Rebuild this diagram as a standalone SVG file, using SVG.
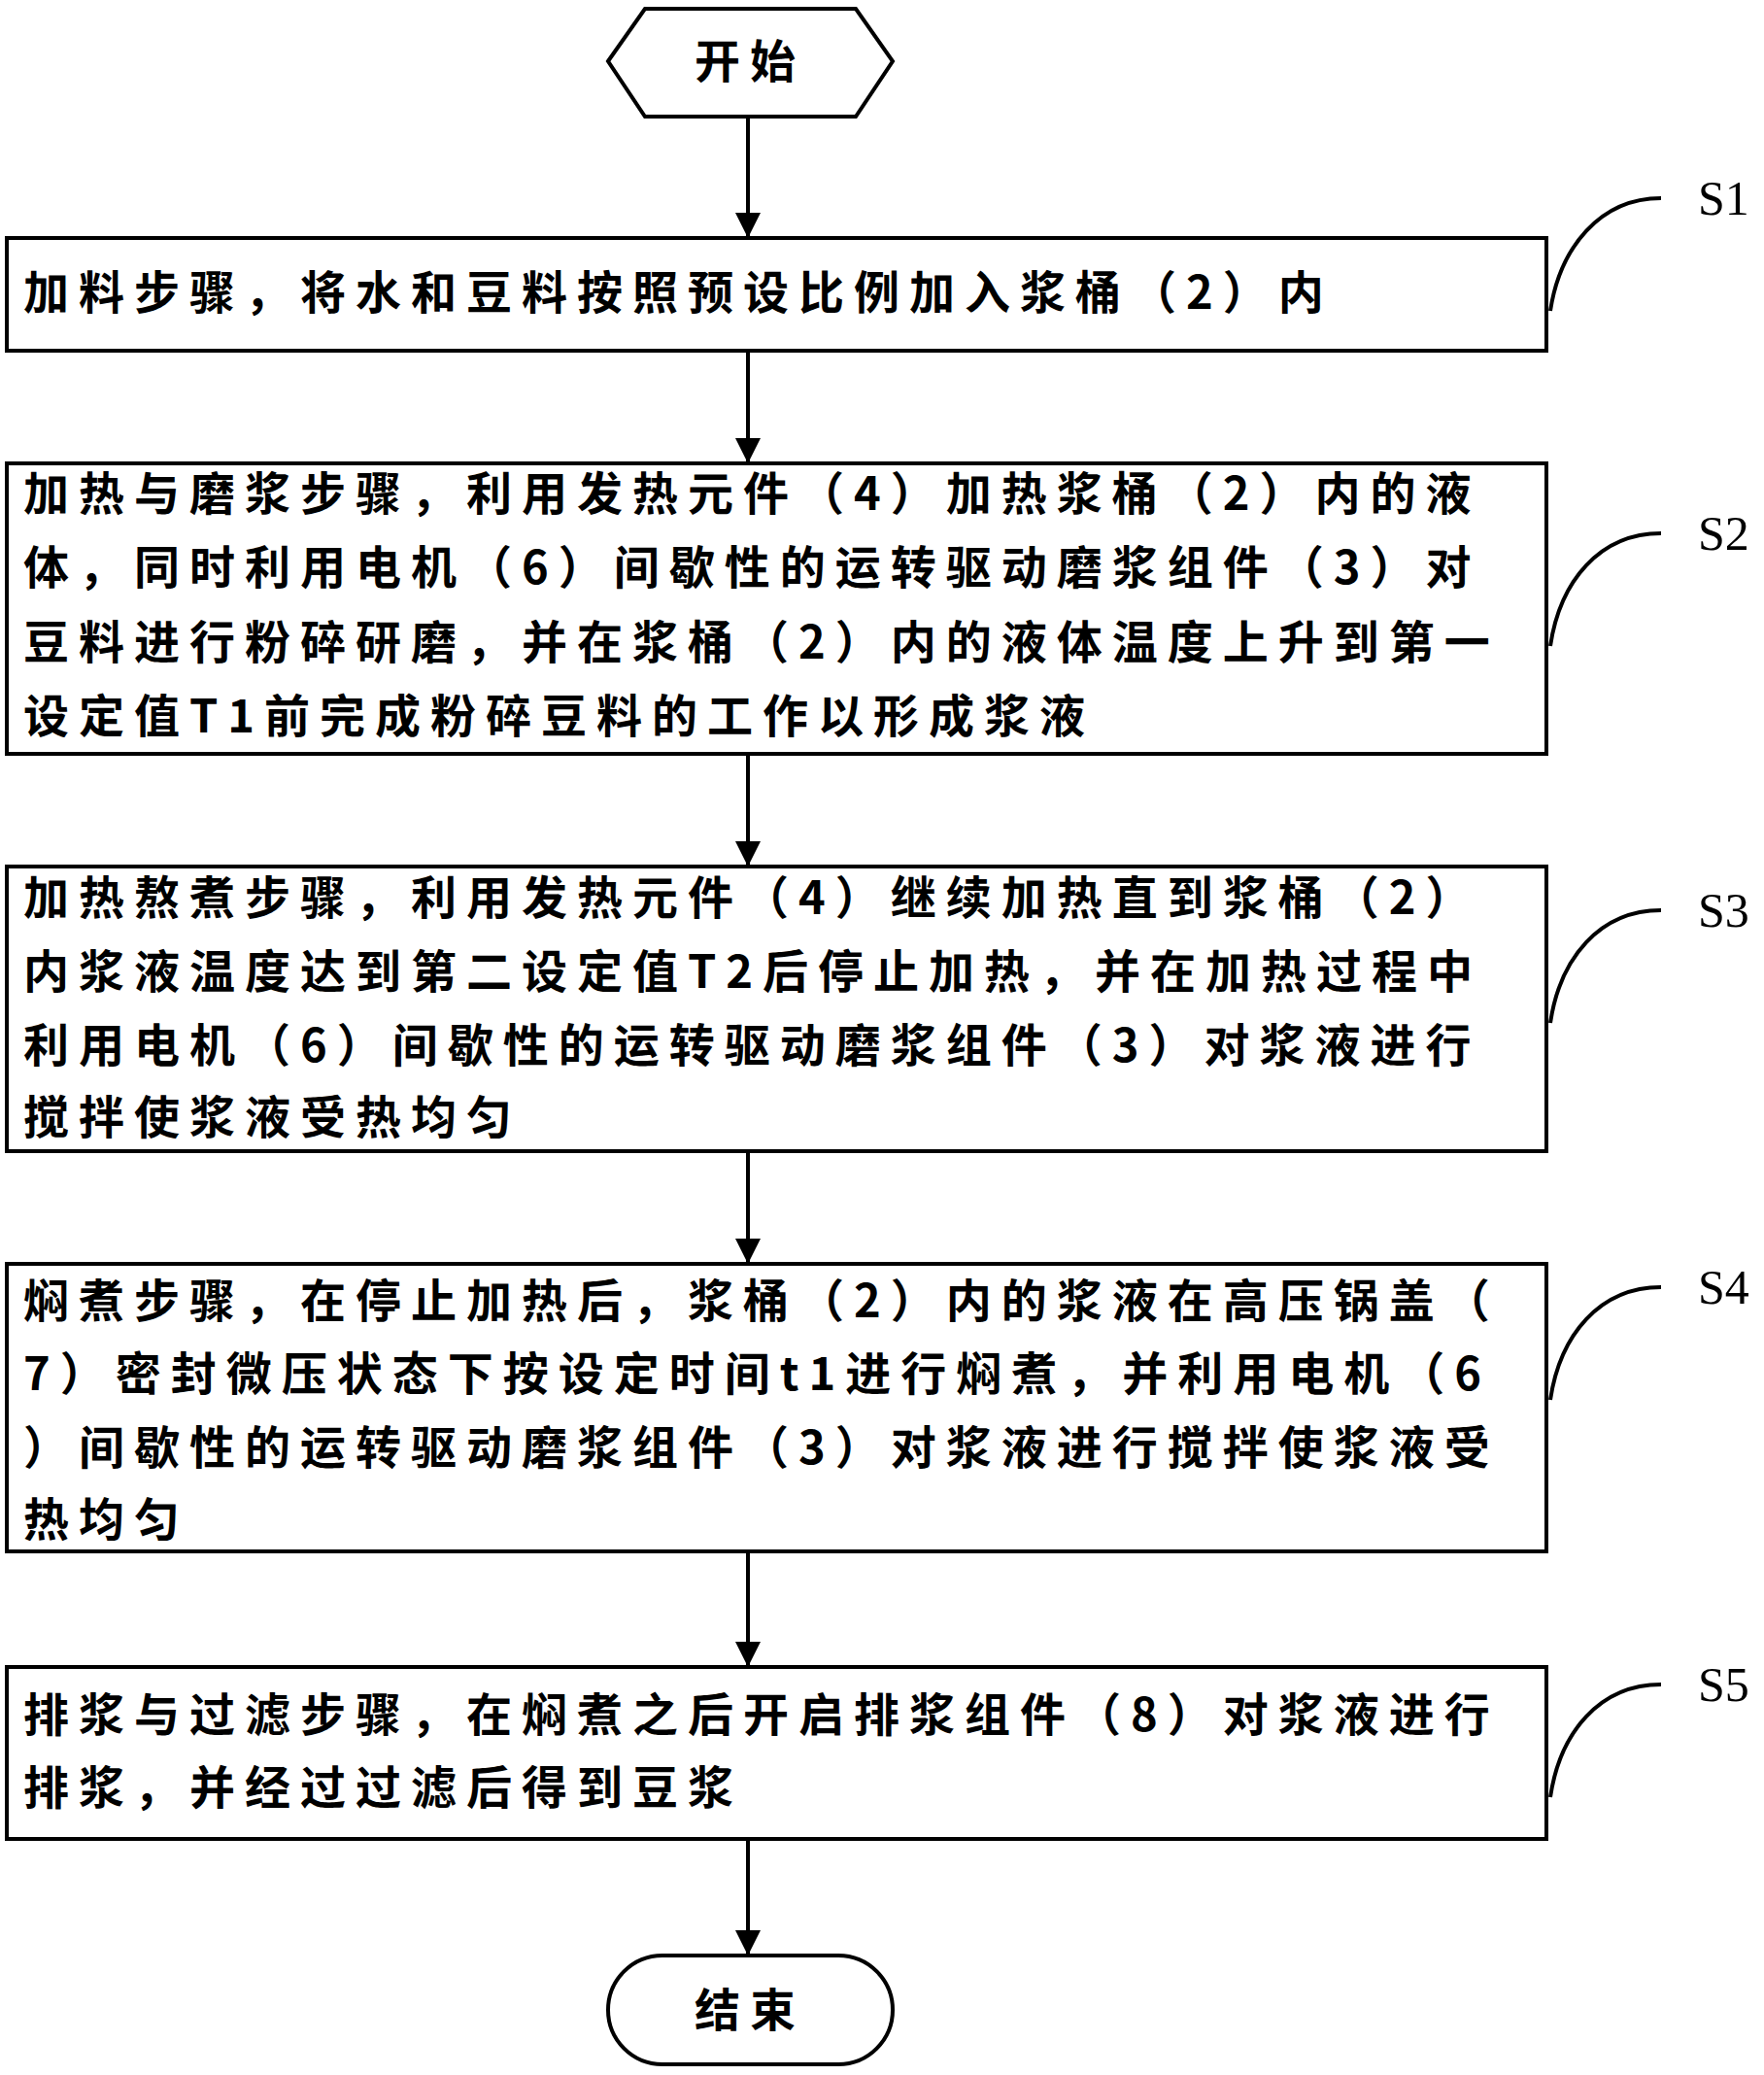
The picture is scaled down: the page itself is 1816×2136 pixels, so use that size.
<svg xmlns="http://www.w3.org/2000/svg" width="1816" height="2136" viewBox="0 0 1816 2136">
<style>
.b{fill:#fff;stroke:#000;stroke-width:4}
.t{font-family:"Noto Sans CJK SC","Liberation Serif",serif;font-weight:bold;font-size:47px;letter-spacing:10px}
.s{font-family:"Liberation Serif",serif;font-size:50px}
.c{fill:none;stroke:#000;stroke-width:4}
.l{stroke:#000;stroke-width:4;marker-end:url(#a)}
</style>
<defs><marker id="a" markerWidth="26" markerHeight="32" refX="26" refY="13" orient="auto" markerUnits="userSpaceOnUse"><path d="M0,0 L26,13 L0,26 Z"/></marker></defs>
<rect width="1816" height="2136" fill="#fff"/>
<g id="connectors">
<line class="l" x1="770" y1="120" x2="770" y2="245"/>
<line class="l" x1="770" y1="361" x2="770" y2="477"/>
<line class="l" x1="770" y1="776" x2="770" y2="892"/>
<line class="l" x1="770" y1="1185" x2="770" y2="1301"/>
<line class="l" x1="770" y1="1597" x2="770" y2="1716"/>
<line class="l" x1="770" y1="1893" x2="770" y2="2013"/>
<path class="c" d="M1596 320 C1606 255 1647 204 1710 204"/>
<path class="c" d="M1596 665 C1606 598 1647 549 1710 549"/>
<path class="c" d="M1596 1053 C1606 986 1647 937 1710 937"/>
<path class="c" d="M1596 1441 C1606 1374 1647 1325 1710 1325"/>
<path class="c" d="M1596 1850 C1606 1783 1647 1734 1710 1734"/>
</g>
<g id="start"><polygon class="b" points="626,63 664,9 881,9 919,63 881,120 664,120"/><text class="t" x="772" y="80" text-anchor="middle">开始</text></g>
<g id="S1"><rect class="b" x="7" y="245" width="1585" height="116"/><text class="t" x="24" y="318">加料步骤，将水和豆料按照预设比例加入浆桶（2）内</text><text class="s" x="1748" y="221">S1</text></g>
<g id="S2"><rect class="b" x="7" y="477" width="1585" height="299"/>
<text class="t" x="24" y="525">加热与磨浆步骤，利用发热元件（4）加热浆桶（2）内的液</text>
<text class="t" x="24" y="601">体，同时利用电机（6）间歇性的运转驱动磨浆组件（3）对</text>
<text class="t" x="24" y="678">豆料进行粉碎研磨，并在浆桶（2）内的液体温度上升到第一</text>
<text class="t" x="24" y="754">设定值T1前完成粉碎豆料的工作以形成浆液</text>
<text class="s" x="1748" y="566">S2</text></g>
<g id="S3"><rect class="b" x="7" y="892" width="1585" height="293"/>
<text class="t" x="24" y="941">加热熬煮步骤，利用发热元件（4）继续加热直到浆桶（2）</text>
<text class="t" x="24" y="1017">内浆液温度达到第二设定值T2后停止加热，并在加热过程中</text>
<text class="t" x="24" y="1093">利用电机（6）间歇性的运转驱动磨浆组件（3）对浆液进行</text>
<text class="t" x="24" y="1167">搅拌使浆液受热均匀</text>
<text class="s" x="1748" y="954">S3</text></g>
<g id="S4"><rect class="b" x="7" y="1301" width="1585" height="296"/>
<text class="t" x="24" y="1356">焖煮步骤，在停止加热后，浆桶（2）内的浆液在高压锅盖（</text>
<text class="t" x="24" y="1431">7）密封微压状态下按设定时间t1进行焖煮，并利用电机（6</text>
<text class="t" x="24" y="1507">）间歇性的运转驱动磨浆组件（3）对浆液进行搅拌使浆液受</text>
<text class="t" x="24" y="1581">热均匀</text>
<text class="s" x="1748" y="1342">S4</text></g>
<g id="S5"><rect class="b" x="7" y="1716" width="1585" height="177"/>
<text class="t" x="24" y="1782">排浆与过滤步骤，在焖煮之后开启排浆组件（8）对浆液进行</text>
<text class="t" x="24" y="1857">排浆，并经过过滤后得到豆浆</text>
<text class="s" x="1748" y="1751">S5</text></g>
<g id="end"><rect class="b" x="626" y="2013" width="293" height="112" rx="56"/><text class="t" x="772" y="2086" text-anchor="middle">结束</text></g>
</svg>
